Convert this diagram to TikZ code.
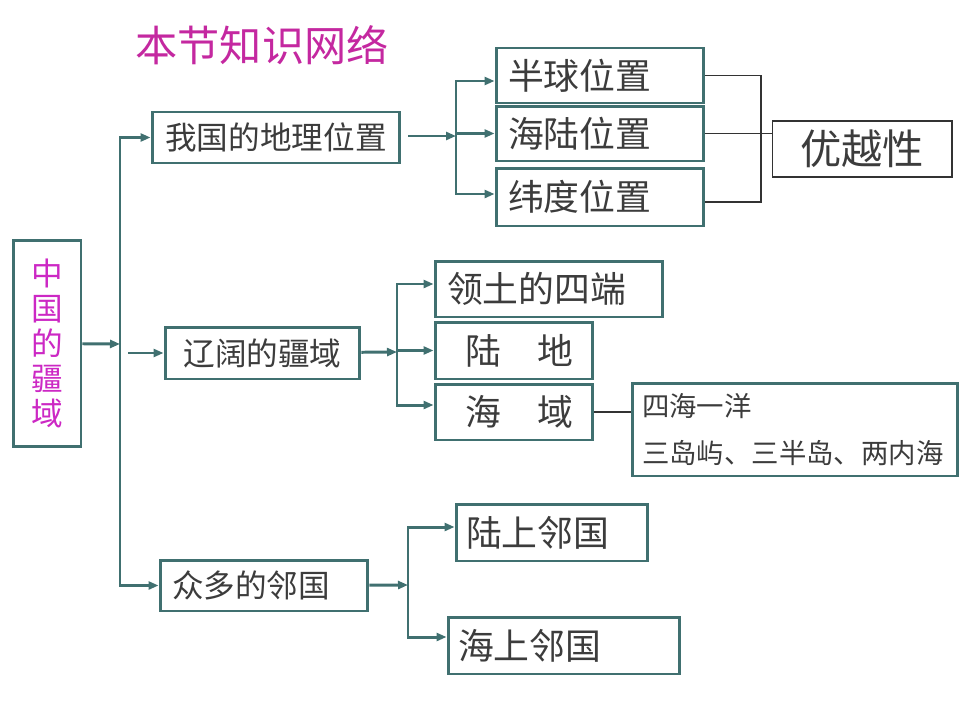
\documentclass[tikz,border=0pt]{standalone}
\usepackage{fontspec}
\setmainfont{Noto Sans CJK SC}
\usetikzlibrary{arrows.meta}
\definecolor{tealline}{RGB}{64,112,112}
\definecolor{boxtext}{RGB}{60,60,60}
\definecolor{titlepink}{RGB}{196,40,160}
\definecolor{mainpink}{RGB}{204,40,196}

\begin{document}
\begin{tikzpicture}[x=0.02cm, y=-0.02cm,
    kbox/.style={draw=tealline, line width=1.7pt, inner sep=0pt, text=boxtext},
    big/.style={font=\fontsize{20.4}{24}\selectfont},
    mid/.style={font=\fontsize{18}{22}\selectfont},
    arr/.style={draw=tealline, line width=1.7pt, -{Triangle[length=0.2cm,width=0.16cm]}},
    tline/.style={draw=black!80, line width=0.6pt}]
    \useasboundingbox (0,0) rectangle (960,720);

    % 标题
    \node[text=titlepink, font=\fontsize{24}{28}\selectfont] (title) at (262,45) {本节知识网络};

    % 主题
    \node[kbox, text=mainpink, align=center, minimum width=1.36cm, minimum height=4.14cm,
          font=\fontsize{18}{19.8}\selectfont] (main) at (47,343.5) {中\\国\\的\\疆\\域};

    % 三个分支
    \node[kbox, mid, minimum width=4.96cm, minimum height=1.02cm] (box1) at (276,137.5) {我国的地理位置};
    \node[kbox, mid, minimum width=3.9cm, minimum height=1.04cm] (box2) at (262.5,353) {辽阔的疆域};
    \node[kbox, mid, inner xsep=0.24cm, text width=3.68cm, align=left, minimum height=1.02cm] (box3) at (264,585.5) {众多的邻国};

    % 地理位置
    \node[kbox, big, inner xsep=0.24cm, text width=3.68cm, align=left, minimum height=1.1cm] (hq) at (600,75.5) {半球位置};
    \node[kbox, big, inner xsep=0.24cm, text width=3.68cm, align=left, minimum height=1.1cm] (hl) at (600,133.5) {海陆位置};
    \node[kbox, big, inner xsep=0.24cm, text width=3.68cm, align=left, minimum height=1.16cm] (wd) at (600,197) {纬度位置};
    \node[draw=black!80, line width=0.6pt, text=boxtext, font=\fontsize{23.5}{28}\selectfont,
          minimum width=3.6cm, minimum height=1.12cm] (yx) at (862,149) {优越性};

    % 疆域
    \node[kbox, big, inner xsep=0.24cm, text width=4.08cm, align=left, minimum height=1.12cm] (ld) at (549,289) {领土的四端};
    \node[kbox, big, minimum width=3.16cm, minimum height=1.14cm] (lu) at (514,350.5) {\hspace{0.3em}陆\hspace{1em}地};
    \node[kbox, big, minimum width=3.16cm, minimum height=1.12cm] (hy) at (514,412) {\hspace{0.3em}海\hspace{1em}域};
    \node[kbox, inner xsep=0.2cm, text width=6.12cm, align=left, minimum height=1.86cm,
          font=\fontsize{15.6}{26.6}\selectfont] (sea) at (795,429.5) {四海一洋\\三岛屿、三半岛、两内海};

    % 邻国
    \node[kbox, big, inner xsep=0.2cm, text width=3.44cm, align=left, minimum height=1.14cm] (ls) at (552,532.5) {陆上邻国};
    \node[kbox, big, inner xsep=0.2cm, text width=4.24cm, align=left, minimum height=1.14cm] (hs) at (564,645.5) {海上邻国};

    % 主干
    \coordinate (trunk) at (120,344);
    \coordinate (m2) at (128,353);
    \draw[arr] (main) -- (trunk);
    \draw[arr] (trunk) |- (box1.west);
    \draw[arr] (trunk) |- (box3.west);
    \draw[arr] (m2) -- (box2.west);

    % 位置分支
    \coordinate (s1) at (408,136);
    \coordinate (b1) at (456,136);
    \draw[arr] (s1) -- (b1);
    \draw[arr] (b1) |- ([yshift=-0.11cm]hq.west);
    \draw[arr] (b1) |- (hl.west);
    \draw[arr] (b1) |- ([yshift=0.06cm]wd.west);
    \coordinate (k3) at (761,202);
    \draw[tline] (hq.east) -| (k3) -- (wd.east |- k3);
    \draw[tline] (hl.east) -- (hl.east -| yx.west);

    % 疆域分支
    \coordinate (b2) at (397,352);
    \draw[arr] (box2) -- (b2);
    \draw[arr] (b2) |- ([yshift=0.1cm]ld.west);
    \draw[arr] (b2) |- (lu.west);
    \draw[arr] (b2) |- ([yshift=0.14cm]hy.west);
    \draw[tline] (hy.east) -- (hy.east -| sea.west);

    % 邻国分支
    \coordinate (b3) at (408,585);
    \draw[arr] (box3) -- (b3);
    \draw[arr] (b3) |- ([yshift=0.11cm]ls.west);
    \draw[arr] (b3) |- ([yshift=0.17cm]hs.west);
\end{tikzpicture}
\end{document}
